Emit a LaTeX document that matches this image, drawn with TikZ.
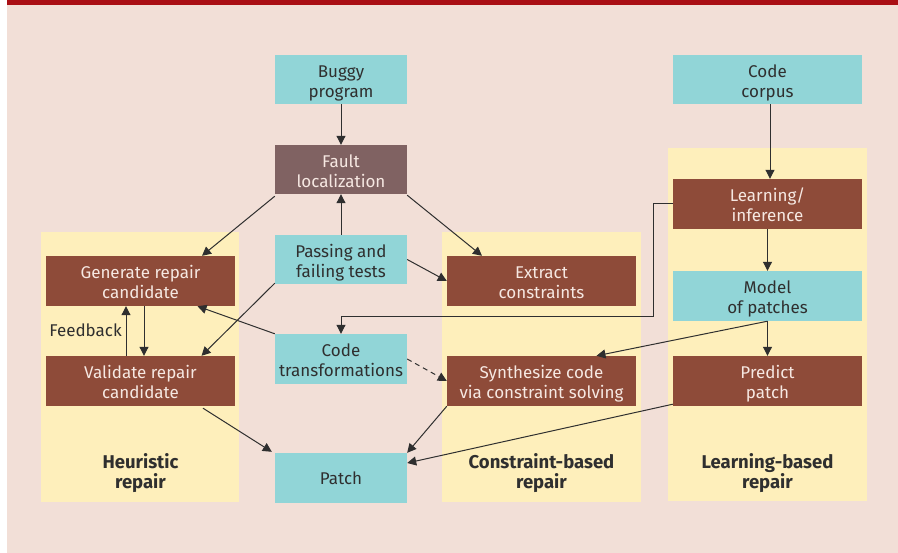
\documentclass[tikz,border=0pt]{standalone}
\usepackage{fontspec}
\setmainfont{Fira Sans}
\usetikzlibrary{arrows.meta,calc}
\definecolor{bgpink}{HTML}{F2DFD7}
\definecolor{topred}{HTML}{AA0F14}
\definecolor{panelyellow}{HTML}{FEEFBB}
\definecolor{boxteal}{HTML}{91D5D7}
\definecolor{boxbrown}{HTML}{8E4B39}
\definecolor{boxmauve}{HTML}{806262}
\definecolor{lighttext}{HTML}{F6E8E2}
\definecolor{darkline}{HTML}{2F2F2F}
\begin{document}
\begin{tikzpicture}[x=1pt,y=-1pt,
  basebox/.style={inner sep=0pt, align=center, font=\fontsize{17}{20}\selectfont},
  twoline/.style={text height=36pt, text depth=0pt},
  inbox/.style={basebox, fill=boxteal, text=darkline, minimum width=132pt, minimum height=49pt},
  stepbox/.style={basebox, twoline, fill=boxbrown, text=lighttext, minimum width=189pt, minimum height=50pt},
  faultbox/.style={basebox, twoline, fill=boxmauve, text=lighttext, minimum width=132pt, minimum height=49pt},
  tealwide/.style={basebox, twoline, fill=boxteal, text=darkline, minimum width=189pt, minimum height=50pt},
  panel/.style={fill=panelyellow},
  paneltitle/.style={align=center, text=darkline, font=\bfseries\fontsize{18.5}{20}\selectfont},
  arr/.style={draw=darkline, line width=1pt, -{Triangle[length=9pt,width=9pt]}},
]
\useasboundingbox (0,0) rectangle (898,553);
% page background and top rule
\fill[bgpink] (7,0) rectangle (898,553);
\fill[topred] (7,0) rectangle (898,5);

% the three repair families
\fill[panel] (41,232) rectangle (239,502);
\fill[panel] (442,232) rectangle (641,502);
\fill[panel] (668,148) rectangle (867,501);

\node[paneltitle] (theur) at (140.5,473) {Heuristic\\repair};
\node[paneltitle] (tcons) at (541.5,473) {Constraint-based\\repair};
\node[paneltitle] (tlearn) at (767.5,473) {Learning-based\\repair};

% central column
\node[inbox, twoline] (buggy) at (341,79.5) {Buggy\\program};
\node[faultbox] (fault) at (341,169.5) {Fault\\localization};
\node[inbox, twoline] (passing) at (341,259.5) {Passing and\\failing tests};
\node[inbox, twoline, minimum height=50pt] (codetr) at (341,359) {Code\\transformations};
\node[inbox, minimum height=50pt] (patch) at (341,478) {Patch};

% heuristic repair
\node[stepbox] (gen) at (140.5,281) {Generate repair\\candidate};
\node[stepbox] (val) at (140.5,381) {Validate repair\\candidate};
\node[basebox, text=darkline] (feedback) at (85.5,330) {Feedback};

% constraint-based repair
\node[stepbox] (extract) at (541.5,281) {Extract\\constraints};
\node[stepbox] (synth) at (541.5,381) {Synthesize code\\via constraint solving};

% learning-based repair
\node[tealwide, minimum height=49pt] (corpus) at (767.5,79.5) {Code\\corpus};
\node[stepbox] (learn) at (767.5,204) {Learning/\\inference};
\node[tealwide] (model) at (767.5,296) {Model\\of patches};
\node[stepbox] (predict) at (767.5,381) {Predict\\patch};

% connectors
\draw[arr] (buggy.south) -- (fault.north);
\draw[arr] (passing.north) -- (fault.south);
\draw[arr] ([yshift=-2pt]fault.south west) -- ([xshift=61.5pt]gen.north);
\draw[arr] ([yshift=-1pt]fault.south east) -- ([xshift=-59.5pt]extract.north);
\draw[arr] (passing.east) -- (extract.west);
\draw[arr] ([yshift=1pt]passing.south west) -- ([xshift=61pt]val.north);
\draw[arr] (codetr.north west) -- ([xshift=57pt]gen.south);
\draw[arr, dash pattern=on 5pt off 4pt] (codetr.east) -- (synth.west);
\draw[arr] ([xshift=3.5pt]gen.south) -- ([xshift=3.5pt]val.north);
\draw[arr] ([xshift=-14.5pt]val.north) -- ([xshift=-14.5pt]gen.south);
\draw[arr] ([xshift=62.5pt,yshift=-2pt]val.south) -- ([xshift=-3pt,yshift=1pt]patch.north west);
\draw[arr] (synth.south west) -- (patch.north east);
\draw[arr] ([yshift=2pt]predict.south west) -- ([yshift=15pt]patch.east);
\draw[arr] ([xshift=2.5pt]corpus.south) -- ([xshift=2.5pt]learn.north);
\draw[arr] (learn.south) -- (model.north);
\draw[arr] (model.south) -- (predict.north);
\coordinate (bend) at (653,317);
\draw[arr] (learn.west) -| (bend) -| (codetr.north);
\draw[arr] (model.south) -- ([xshift=55pt]synth.north);
\end{tikzpicture}
\end{document}
